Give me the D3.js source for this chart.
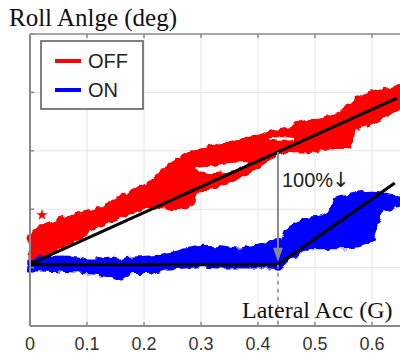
<!DOCTYPE html>
<html>
<head>
<meta charset="utf-8">
<script src="https://cdn.jsdelivr.net/npm/d3@7"></script>
<style>
  html, body { margin: 0; padding: 0; background: #fff; }
  svg { display: block; }
  .tick-label { font-family: "Liberation Sans", Arial, sans-serif; font-size: 18px; fill: #333; }
  .serif { font-family: "Liberation Serif", "Times New Roman", serif; fill: #111; }
  .legend-text { font-family: "Liberation Sans", Arial, sans-serif; font-size: 20px; fill: #222; }
</style>
</head>
<body>
<div id="chart"></div>
<script>
// ---- data ----
const xTicks = [0, 0.1, 0.2, 0.3, 0.4, 0.5, 0.6];
const yGrid = [-1, 0, 1, 2, 3, 4];

// OFF cloud: lateral acc (G) with upper / lower edge of roll angle
const offX     = [0, 0.018, 0.035, 0.053, 0.079, 0.123, 0.167, 0.211, 0.237, 0.281, 0.298, 0.333, 0.386, 0.421, 0.456, 0.474, 0.509, 0.544, 0.561, 0.570, 0.579, 0.614, 0.644, 0.649];
const offUpper = [0.54, 0.70, 0.76, 0.82, 0.90, 1.02, 1.26, 1.47, 1.71, 1.95, 2.01, 2.10, 2.22, 2.32, 2.39, 2.48, 2.53, 2.66, 2.79, 2.87, 2.92, 3.04, 3.09, 3.11];
const offLower = [-0.01, 0.15, 0.25, 0.37, 0.47, 0.73, 0.90, 1.04, 1.02, 1.05, 1.33, 1.41, 1.64, 1.88, 2.01, 1.98, 2.01, 2.08, 2.07, 2.39, 2.41, 2.56, 2.73, 2.80];
const offOutliers = [[0.021, 0.90]];
// empty pockets inside the OFF loop (x, upper, lower)
const offGaps = [
    { x: [0.290, 0.320, 0.350, 0.380], hi: [1.70, 1.74, 1.79, 1.81], lo: [1.67, 1.62, 1.65, 1.73] },
    { x: [0.420, 0.440, 0.465], hi: [2.21, 2.23, 2.22], lo: [2.17, 2.17, 2.19] }
];

// ON cloud
const onX     = [0, 0.018, 0.053, 0.088, 0.105, 0.140, 0.158, 0.175, 0.211, 0.237, 0.272, 0.298, 0.333, 0.368, 0.404, 0.421, 0.439, 0.456, 0.474, 0.491, 0.509, 0.526, 0.535, 0.544, 0.561, 0.579, 0.596, 0.605, 0.614, 0.632, 0.649];
const onUpper = [0.13, 0.16, 0.18, 0.16, 0.13, 0.16, 0.13, 0.16, 0.18, 0.22, 0.30, 0.35, 0.34, 0.30, 0.39, 0.44, 0.47, 0.70, 0.78, 0.85, 0.87, 0.94, 1.16, 1.21, 1.24, 1.28, 1.29, 1.29, 1.28, 1.24, 1.21];
const onLower = [-0.04, -0.04, -0.06, -0.08, -0.09, -0.13, -0.18, -0.09, -0.08, -0.01, 0.01, 0.03, 0.01, 0.01, 0.01, 0.01, -0.01, 0.18, 0.25, 0.34, 0.34, 0.34, 0.34, 0.34, 0.35, 0.39, 0.44, 0.59, 0.93, 1.02, 1.07];

// fitted lines
const offFit = [[0, 0.06], [0.644, 2.90]];
const onFit  = [[0, 0.05], [0.435, 0.05], [0.640, 1.45]];

// reduction annotation
const arrowX = 0.435;
const arrowTop = 1.98;
const arrowBottom = 0.05;
const arrowLabel = "100%";

const seriesNames = ["OFF", "ON"];
const seriesColors = ["#ff0000", "#0000ff"];

// ---- layout ----
const width = 400, height = 355;
const plot = { left: 30, top: 34, right: 400.5, bottom: 326 };

const x = d3.scaleLinear().domain([0, 0.65]).range([plot.left, plot.right]);
const y = d3.scaleLinear().domain([-1, 4]).range([plot.bottom, plot.top]);

const svg = d3.select('#chart').append('svg')
    .attr('width', width)
    .attr('height', height);

const defs = svg.append('defs');
// rough edge so the clouds look like piles of '*' markers
const rough = defs.append('filter').attr('id', 'rough')
    .attr('x', '-5%').attr('y', '-10%').attr('width', '110%').attr('height', '120%');
rough.append('feTurbulence')
    .attr('type', 'fractalNoise').attr('baseFrequency', 0.16)
    .attr('numOctaves', 1).attr('seed', 7).attr('result', 'noise');
rough.append('feDisplacementMap')
    .attr('in', 'SourceGraphic').attr('in2', 'noise')
    .attr('scale', 8).attr('xChannelSelector', 'R').attr('yChannelSelector', 'G');

defs.append('clipPath').attr('id', 'plotClip')
    .append('rect')
    .attr('x', plot.left - 4).attr('y', plot.top)
    .attr('width', plot.right - plot.left + 4).attr('height', plot.bottom - plot.top);

// --- grid ---
const grid = svg.append('g').attr('class', 'grid');
grid.selectAll('.vgrid')
    .data(xTicks.filter(d => d > 0))
    .enter().append('line')
    .attr('x1', d => x(d)).attr('x2', d => x(d))
    .attr('y1', plot.top).attr('y2', plot.bottom)
    .attr('stroke', '#e4e4e4').attr('stroke-width', 1);
grid.selectAll('.hgrid')
    .data(yGrid.filter(d => d > -1 && d < 4))
    .enter().append('line')
    .attr('x1', plot.left).attr('x2', plot.right)
    .attr('y1', d => y(d)).attr('y2', d => y(d))
    .attr('stroke', '#e4e4e4').attr('stroke-width', 1);

// --- clouds ---
const band = (xs, up, lo) => xs.map((v, i) => ({ x: v, hi: up[i], lo: lo[i] }));
const area = d3.area()
    .x(d => x(d.x))
    .y0(d => y(d.lo))
    .y1(d => y(d.hi))
    .curve(d3.curveMonotoneX);

const clouds = svg.append('g').attr('clip-path', 'url(#plotClip)');
const cloudG = clouds.append('g').attr('filter', 'url(#rough)');

cloudG.append('path')
    .datum(band(offX, offUpper, offLower))
    .attr('d', area)
    .attr('fill', seriesColors[0])
    .attr('stroke', seriesColors[0]).attr('stroke-width', 3);

cloudG.selectAll('.gap')
    .data(offGaps)
    .enter().append('path')
    .attr('d', g => area(band(g.x, g.hi, g.lo)))
    .attr('fill', '#fff');

cloudG.append('path')
    .datum(band(onX, onUpper, onLower))
    .attr('d', area)
    .attr('fill', seriesColors[1])
    .attr('stroke', seriesColors[1]).attr('stroke-width', 3);

clouds.selectAll('.outlier')
    .data(offOutliers)
    .enter().append('path')
    .attr('transform', d => `translate(${x(d[0])},${y(d[1])})`)
    .attr('d', d3.symbol(d3.symbolStar, 40))
    .attr('fill', seriesColors[0]);

// --- fitted lines ---
const line = d3.line().x(d => x(d[0])).y(d => y(d[1]));
clouds.append('path').datum(offFit).attr('d', line)
    .attr('fill', 'none').attr('stroke', '#000').attr('stroke-width', 3);
clouds.append('path').datum(onFit).attr('d', line)
    .attr('fill', 'none').attr('stroke', '#000').attr('stroke-width', 3);

// --- axes frame ---
const frame = svg.append('g').attr('stroke', '#8a8a8a');
frame.append('line')
    .attr('x1', plot.left).attr('x2', plot.left)
    .attr('y1', plot.top).attr('y2', plot.bottom)
    .attr('stroke-width', 2);
frame.append('line')
    .attr('x1', plot.left).attr('x2', width)
    .attr('y1', plot.bottom).attr('y2', plot.bottom)
    .attr('stroke-width', 2);
frame.append('line')
    .attr('x1', plot.left).attr('x2', width)
    .attr('y1', plot.top).attr('y2', plot.top)
    .attr('stroke-width', 1.5);
// inward tick marks
frame.selectAll('.ytick')
    .data(yGrid)
    .enter().append('line')
    .attr('x1', plot.left).attr('x2', plot.left + 4)
    .attr('y1', d => y(d)).attr('y2', d => y(d))
    .attr('stroke-width', 1.5);
frame.selectAll('.xtickB')
    .data(xTicks)
    .enter().append('line')
    .attr('x1', d => x(d)).attr('x2', d => x(d))
    .attr('y1', plot.bottom).attr('y2', plot.bottom - 4)
    .attr('stroke-width', 1.5);
frame.selectAll('.xtickT')
    .data(xTicks)
    .enter().append('line')
    .attr('x1', d => x(d)).attr('x2', d => x(d))
    .attr('y1', plot.top).attr('y2', plot.top + 4)
    .attr('stroke-width', 1.5);

// tick labels
svg.selectAll('.tick-label')
    .data(xTicks)
    .enter().append('text')
    .attr('class', 'tick-label')
    .attr('x', d => x(d))
    .attr('y', 350)
    .attr('text-anchor', 'middle')
    .text(d => d === 0 ? '0' : d3.format('.1f')(d));

// --- reduction arrow ---
const ann = svg.append('g');
ann.append('line')
    .attr('x1', x(arrowX)).attr('x2', x(arrowX))
    .attr('y1', y(arrowBottom)).attr('y2', plot.bottom)
    .attr('stroke', '#8a8a8a').attr('stroke-width', 1.5)
    .attr('stroke-dasharray', '4,4');
ann.append('line')
    .attr('x1', x(arrowX)).attr('x2', x(arrowX))
    .attr('y1', y(arrowTop)).attr('y2', y(arrowBottom) - 12)
    .attr('stroke', '#8a8a8a').attr('stroke-width', 2);
ann.append('path')
    .attr('d', `M${x(arrowX) - 5},${y(arrowBottom) - 17} L${x(arrowX) + 5},${y(arrowBottom) - 17} L${x(arrowX)},${y(arrowBottom) - 3} Z`)
    .attr('fill', '#8a8a8a');
const annText = ann.append('text')
    .attr('class', 'legend-text')
    .attr('x', x(arrowX) + 4)
    .attr('y', 187);
annText.append('tspan').text(arrowLabel);
annText.append('tspan')
    .attr('font-family', '"DejaVu Sans", sans-serif')
    .attr('font-size', 21)
    .attr('dx', -1)
    .text('↓');

// --- axis titles ---
svg.append('text')
    .attr('class', 'serif')
    .attr('x', 9).attr('y', 26)
    .attr('font-size', 25)
    .text('Roll Anlge (deg)');
svg.append('text')
    .attr('class', 'serif')
    .attr('x', 242).attr('y', 318)
    .attr('font-size', 24)
    .text('Lateral Acc (G)');

// --- legend ---
const legend = svg.append('g').attr('transform', 'translate(41,41)');
legend.append('rect')
    .attr('width', 102).attr('height', 68)
    .attr('fill', '#fff')
    .attr('stroke', '#555').attr('stroke-width', 1.5);
const items = legend.selectAll('.item')
    .data(seriesNames)
    .enter().append('g')
    .attr('transform', (d, i) => `translate(0,${20 + i * 29})`);
items.append('line')
    .attr('x1', 14).attr('x2', 40)
    .attr('stroke', (d, i) => seriesColors[i])
    .attr('stroke-width', 4);
items.append('text')
    .attr('class', 'legend-text')
    .attr('x', 47).attr('y', 7)
    .text(d => d);
</script>
</body>
</html>
